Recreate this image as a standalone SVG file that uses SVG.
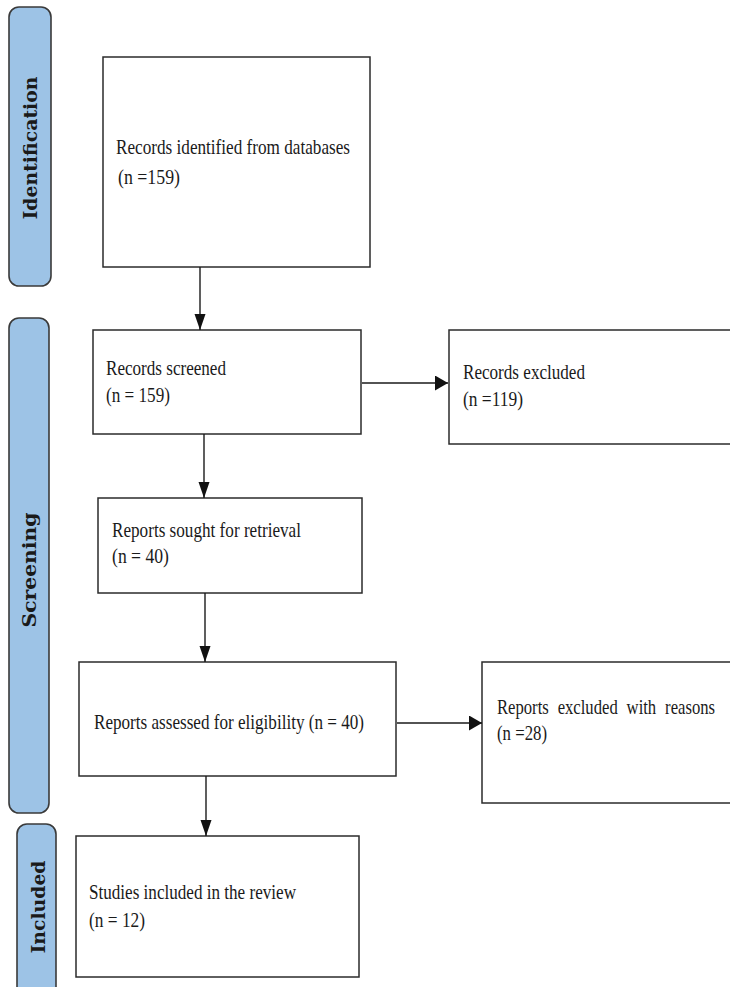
<svg xmlns="http://www.w3.org/2000/svg" width="730" height="987" viewBox="0 0 730 987">
<style>
.pill{fill:#9dc3e6;stroke:#3a3a3a;stroke-width:1.6}
.box{fill:#ffffff;stroke:#2b2b2b;stroke-width:1.5}
.t{font-family:"Liberation Serif","Times New Roman",serif;font-size:21px;fill:#1a1a1a}
.lab{font-family:"DejaVu Serif","Liberation Serif",serif;font-size:19px;font-weight:bold;fill:#1a1a1a;text-anchor:middle}
.c{stroke:#1a1a1a;stroke-width:1.4;fill:none}
</style>
<defs>
<marker id="ad" markerUnits="userSpaceOnUse" markerWidth="17" markerHeight="12" refX="16" refY="5.5" orient="auto"><path d="M0,0 L16,5.5 L0,11 Z" fill="#111"/></marker>
<marker id="ar" markerUnits="userSpaceOnUse" markerWidth="14" markerHeight="16" refX="13" refY="7.5" orient="auto"><path d="M0,0 L13,7.5 L0,15 Z" fill="#111"/></marker>
</defs>
<rect width="730" height="987" fill="#ffffff"/>

<g id="phase-identification">
<rect class="pill" x="9" y="7" width="42" height="279" rx="10"/>
<text class="lab" transform="translate(37,148) rotate(-90)" textLength="143" lengthAdjust="spacingAndGlyphs">Identification</text>
</g>
<g id="phase-screening">
<rect class="pill" x="9" y="318" width="40" height="495" rx="10"/>
<text class="lab" transform="translate(36,570) rotate(-90)" textLength="115" lengthAdjust="spacingAndGlyphs">Screening</text>
</g>
<g id="phase-included">
<rect class="pill" x="17" y="824" width="39" height="180" rx="10"/>
<text class="lab" transform="translate(45,907) rotate(-90)" textLength="93" lengthAdjust="spacingAndGlyphs">Included</text>
</g>

<g id="node-identified">
<rect class="box" x="103" y="57" width="267" height="210"/>
<text class="t" x="116" y="154" textLength="234" lengthAdjust="spacingAndGlyphs">Records identified from databases</text>
<text class="t" x="118" y="184" textLength="62" lengthAdjust="spacingAndGlyphs">(n =159)</text>
</g>
<g id="node-screened">
<rect class="box" x="93" y="330" width="268" height="104"/>
<text class="t" x="106" y="375" textLength="120" lengthAdjust="spacingAndGlyphs">Records screened</text>
<text class="t" x="106" y="402" textLength="64" lengthAdjust="spacingAndGlyphs">(n = 159)</text>
</g>
<g id="node-excluded">
<rect class="box" x="449" y="330" width="290" height="114"/>
<text class="t" x="463" y="379" textLength="122" lengthAdjust="spacingAndGlyphs">Records excluded</text>
<text class="t" x="463" y="406" textLength="60" lengthAdjust="spacingAndGlyphs">(n =119)</text>
</g>
<g id="node-sought">
<rect class="box" x="98" y="498" width="264" height="95"/>
<text class="t" x="112" y="537" textLength="189" lengthAdjust="spacingAndGlyphs">Reports sought for retrieval</text>
<text class="t" x="112" y="563" textLength="57" lengthAdjust="spacingAndGlyphs">(n = 40)</text>
</g>
<g id="node-assessed">
<rect class="box" x="79" y="662" width="317" height="114"/>
<text class="t" x="94" y="729" textLength="270" lengthAdjust="spacingAndGlyphs">Reports assessed for eligibility (n = 40)</text>
</g>
<g id="node-reports-excluded">
<rect class="box" x="482" y="662" width="257" height="141"/>
<text class="t" x="497" y="714" textLength="218" lengthAdjust="spacingAndGlyphs" word-spacing="6">Reports excluded with reasons</text>
<text class="t" x="497" y="740" textLength="50" lengthAdjust="spacingAndGlyphs">(n =28)</text>
</g>
<g id="node-included">
<rect class="box" x="76" y="836" width="283" height="141"/>
<text class="t" x="89" y="899" textLength="207" lengthAdjust="spacingAndGlyphs">Studies included in the review</text>
<text class="t" x="89" y="927" textLength="56" lengthAdjust="spacingAndGlyphs">(n = 12)</text>
</g>

<g id="connectors">
<line class="c" x1="200" y1="267" x2="200" y2="330" marker-end="url(#ad)"/>
<line class="c" x1="362" y1="383" x2="448" y2="383" marker-end="url(#ar)"/>
<line class="c" x1="204" y1="434" x2="204" y2="498" marker-end="url(#ad)"/>
<line class="c" x1="205" y1="593" x2="205" y2="662" marker-end="url(#ad)"/>
<line class="c" x1="397" y1="723" x2="482" y2="723" marker-end="url(#ar)"/>
<line class="c" x1="206" y1="776" x2="206" y2="836" marker-end="url(#ad)"/>
</g>
</svg>
